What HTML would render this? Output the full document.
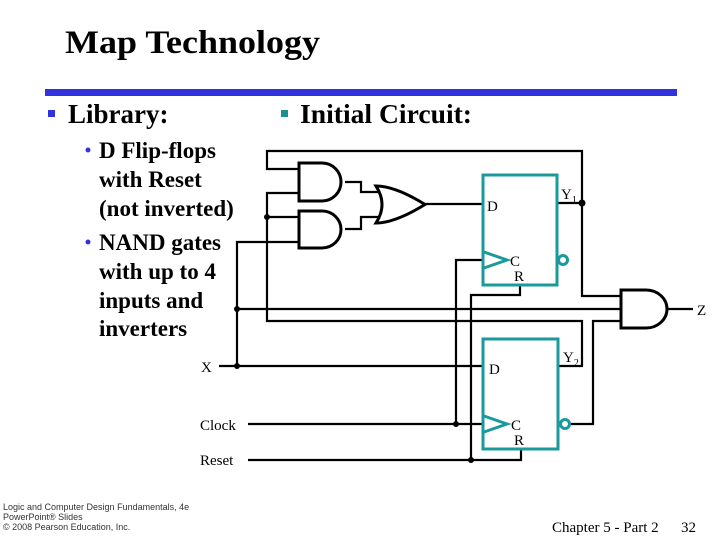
<!DOCTYPE html>
<html><head><meta charset="utf-8"><style>
body{margin:0;background:#fff}
svg{display:block}
.t{font-family:"Liberation Serif",serif;fill:#000}
.b{font-weight:bold}
.s{font-family:"Liberation Sans",sans-serif;fill:#333;font-size:9px}
</style></head><body>
<svg width="720" height="540" viewBox="0 0 720 540" xmlns="http://www.w3.org/2000/svg">
<text x="65" y="53" class="t b" font-size="33" textLength="255" lengthAdjust="spacingAndGlyphs">Map Technology</text>
<rect x="45" y="89" width="632" height="7" fill="#3333dd"/>
<rect x="48" y="110" width="7" height="7" fill="#3333dd"/>
<text x="68" y="123" class="t b" font-size="27">Library:</text>
<rect x="281" y="110" width="7" height="7" fill="#1a9090"/>
<text x="300" y="123" class="t b" font-size="27" textLength="172" lengthAdjust="spacingAndGlyphs">Initial Circuit:</text>
<g class="t b" font-size="23">
<circle cx="88" cy="150" r="2.5" fill="#3333dd"/>
<text x="99" y="158">D Flip-flops</text>
<text x="99" y="187">with Reset</text>
<text x="99" y="216">(not inverted)</text>
<circle cx="88" cy="242" r="2.5" fill="#3333dd"/>
<text x="99" y="250">NAND gates</text>
<text x="99" y="279">with up to 4</text>
<text x="99" y="308">inputs and</text>
<text x="99" y="336">inverters</text>
</g>
<g stroke="#000" stroke-width="2.2" fill="none">
<polyline points="299,169 267,169 267,151 582,151 582,296 621,296"/>
<polyline points="299,193 267,193 267,321 582,321 582,366 558,366"/>
<line x1="267" y1="217" x2="299" y2="217"/>
<polyline points="299,242 237,242 237,366"/>
<line x1="237" y1="309" x2="621" y2="309"/>
<polyline points="345,182 361,182 361,192 380,192"/>
<polyline points="345,229 361,229 361,217 380,217"/>
<line x1="425" y1="204" x2="483" y2="204"/>
<line x1="556" y1="203" x2="582" y2="203"/>
<polyline points="621,321 593,321 593,424 569,424"/>
<line x1="667" y1="309" x2="693" y2="309"/>
<polyline points="484,260 456,260 456,424"/>
<polyline points="520,285 520,295 471,295 471,460"/>
<line x1="219" y1="366" x2="483" y2="366"/>
<line x1="248" y1="424" x2="484" y2="424"/>
<polyline points="248,460 521,460 521,449"/>
</g>
<g stroke="#000" stroke-width="3" fill="none">
<path d="M299,163 H322 A19,19 0 0 1 322,201 H299 Z"/>
<path d="M299,211 H322 A19,18.5 0 0 1 322,248 H299 Z"/>
<path d="M621,290 H646 A21,19 0 0 1 646,328 H621 Z"/>
<path d="M376,186 Q395,186 425,204.5 Q395,223 376,223 Q388,204.5 376,186 Z"/>
</g>
<g fill="#000">
<circle cx="267" cy="217" r="3"/><circle cx="237" cy="309" r="3"/><circle cx="237" cy="366" r="3"/>
<circle cx="582" cy="203" r="3.5"/><circle cx="456" cy="424" r="3"/><circle cx="471" cy="460" r="3"/>
</g>
<g stroke="#1a9a9a" stroke-width="3" fill="#fff">
<rect x="483" y="175" width="74" height="110"/>
<rect x="483" y="339" width="75" height="110"/>
<polyline points="484,252 507,260 484,268" fill="none"/>
<polyline points="484,416 507,424 484,432" fill="none"/>
<circle cx="563" cy="260" r="4.5"/>
<circle cx="565" cy="424" r="4.5"/>
</g>
<g class="t" font-size="15">
<text x="487" y="211">D</text><text x="510" y="266">C</text><text x="514" y="281">R</text>
<text x="561" y="199">Y<tspan font-size="10" dy="4">1</tspan></text>
<text x="489" y="374">D</text><text x="511" y="430">C</text><text x="514" y="445">R</text>
<text x="563" y="362">Y<tspan font-size="10" dy="4">2</tspan></text>
<text x="697" y="315">Z</text>
<text x="201" y="372">X</text>
<text x="200" y="430">Clock</text>
<text x="200" y="465">Reset</text>
<text x="552" y="532">Chapter 5 - Part 2</text>
<text x="681" y="532">32</text>
</g>
<text x="3" y="510" class="s">Logic and Computer Design Fundamentals, 4e</text>
<text x="3" y="520" class="s">PowerPoint® Slides</text>
<text x="3" y="530" class="s">© 2008 Pearson Education, Inc.</text>
</svg>
</body></html>
